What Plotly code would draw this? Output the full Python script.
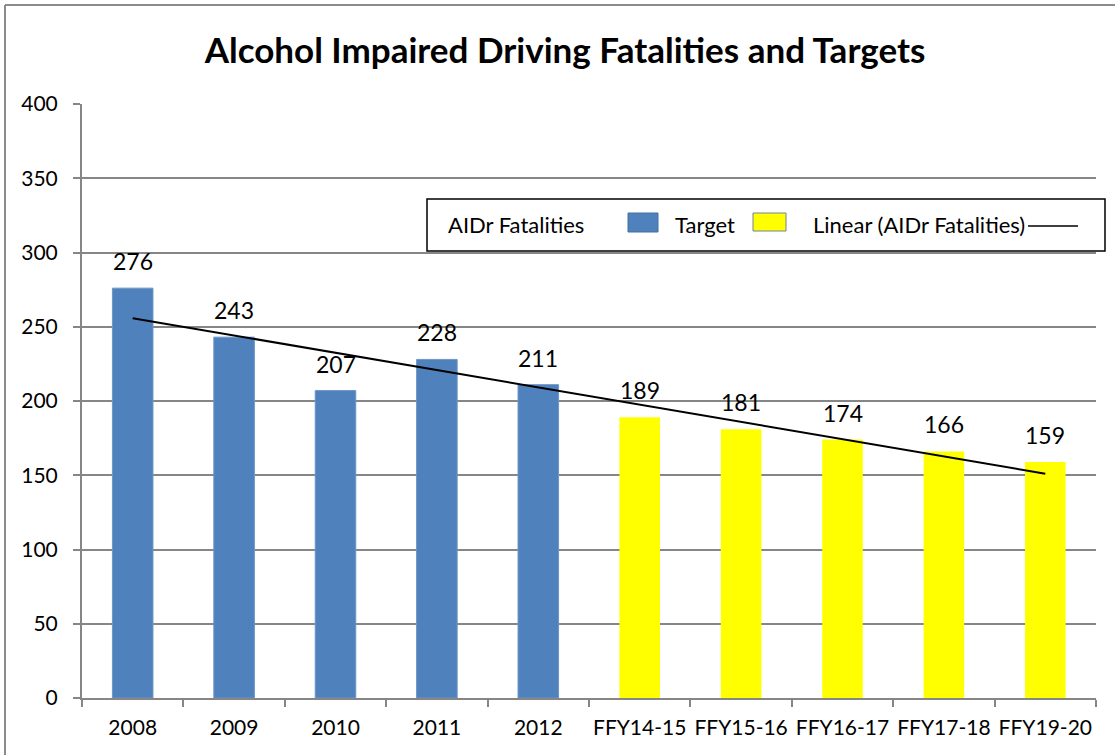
import numpy as np
import plotly.graph_objects as go

categories = ["2008", "2009", "2010", "2011", "2012",
              "FFY14-15", "FFY15-16", "FFY16-17", "FFY17-18", "FFY19-20"]
actual_cats = categories[:5]
actual_vals = [276, 243, 207, 228, 211]
target_cats = categories[5:]
target_vals = [189, 181, 174, 166, 159]
y_ticks = [0, 50, 100, 150, 200, 250, 300, 350, 400]

FONT = "Lato"
W, H = 1115, 755
L, R, T, B = 82, 19, 104, 57
pw, ph = W - L - R, H - T - B

def px(x):
    return (x - L) / pw

def py(y):
    return (H - B - y) / ph

fig = go.Figure()
fig.add_trace(go.Bar(x=actual_cats, y=actual_vals, width=0.4,
                     marker=dict(color="#4F81BD", line=dict(color="#6E95C7", width=1)),
                     name="AIDr Fatalities", showlegend=False))
fig.add_trace(go.Bar(x=target_cats, y=target_vals, width=0.4,
                     marker=dict(color="#FFFF00", line=dict(width=0)),
                     name="Target", showlegend=False))

all_vals = actual_vals + target_vals
xi = np.arange(len(all_vals))
slope, intercept = np.polyfit(xi, all_vals, 1)
trend = slope * xi + intercept
fig.add_trace(go.Scatter(x=categories, y=trend, mode="lines",
                         line=dict(color="black", width=2),
                         name="Linear (AIDr Fatalities)", showlegend=False))

for i, v in enumerate(all_vals):
    fig.add_annotation(x=i, y=v, text=str(v), showarrow=False,
                       yanchor="middle", yshift=27,
                       font=dict(family=FONT, size=23, color="black"))

# legend box (manual)
LF = 22
fig.add_shape(type="rect", xref="paper", yref="paper",
              x0=px(427), x1=px(1105), y0=py(251), y1=py(199),
              line=dict(color="black", width=1.5), fillcolor="white", layer="above")
fig.add_annotation(xref="paper", yref="paper", x=px(446), y=py(224), xanchor="left",
                   yanchor="middle", text="AIDr Fatalities", showarrow=False,
                   font=dict(family=FONT, size=LF, color="black"))
fig.add_shape(type="rect", xref="paper", yref="paper",
              x0=px(628), x1=px(658), y0=py(232), y1=py(213),
              line=dict(color="#41709F", width=1), fillcolor="#4F81BD", layer="above")
fig.add_annotation(xref="paper", yref="paper", x=px(673), y=py(224), xanchor="left",
                   yanchor="middle", text="Target", showarrow=False,
                   font=dict(family=FONT, size=LF, color="black"))
fig.add_shape(type="rect", xref="paper", yref="paper",
              x0=px(753), x1=px(786), y0=py(231), y1=py(213),
              line=dict(color="#6F83A0", width=1), fillcolor="#FFFF00", layer="above")
fig.add_annotation(xref="paper", yref="paper", x=px(811), y=py(224), xanchor="left",
                   yanchor="middle", text="Linear (AIDr Fatalities)", showarrow=False,
                   font=dict(family=FONT, size=LF, color="black"))
fig.add_shape(type="line", xref="paper", yref="paper",
              x0=px(1028), x1=px(1078), y0=py(226), y1=py(226),
              line=dict(color="black", width=1.5), layer="above")

# outer border (top and left)
fig.add_shape(type="line", xref="paper", yref="paper",
              x0=px(5), x1=px(1115), y0=py(5), y1=py(5),
              line=dict(color="#8C8C8C", width=2))
fig.add_shape(type="line", xref="paper", yref="paper",
              x0=px(5), x1=px(5), y0=py(5), y1=py(755),
              line=dict(color="#8C8C8C", width=2))

fig.update_layout(
    width=W, height=H,
    margin=dict(l=L, r=R, t=T, b=B, autoexpand=False),
    paper_bgcolor="white", plot_bgcolor="white",
    barmode="overlay",
    title=dict(text="<b>Alcohol Impaired Driving Fatalities and Targets</b>",
               x=565 / W, xanchor="center", y=1 - 51 / H, yanchor="middle",
               font=dict(family=FONT, size=35, color="black")),
    font=dict(family=FONT, color="black"),
    xaxis=dict(type="category", categoryorder="array", categoryarray=categories,
               range=[-0.5, 9.5], showgrid=False, showline=True, linecolor="#868686",
               linewidth=2, ticks="outside", tickson="boundaries", ticklen=7,
               tickwidth=2, tickcolor="#868686", tickfont=dict(family=FONT, size=21),
               tickangle=0, ticklabelstandoff=10, automargin=False),
    yaxis=dict(range=[0, 400], tickvals=y_ticks, showgrid=True, gridcolor="#868686",
               gridwidth=2, showline=True, linecolor="#868686", linewidth=2,
               ticks="outside", ticklen=7, tickwidth=2, tickcolor="#868686",
               tickfont=dict(family=FONT, size=21), zeroline=False,
               ticklabelstandoff=11, automargin=False),
)

fig.write_html("out.html", config={"displayModeBar": False},
               post_script="document.body.style.margin='0px';")
